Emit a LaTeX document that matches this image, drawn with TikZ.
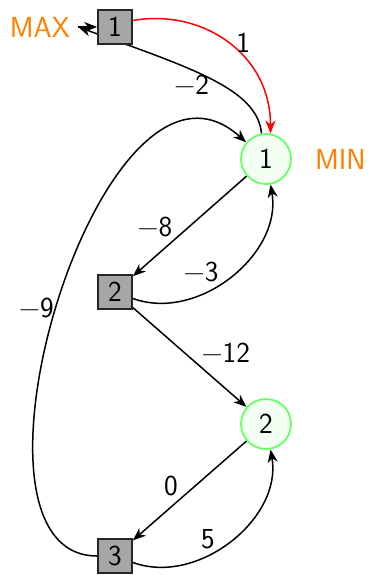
\documentclass[tikz,border=0pt]{standalone}
\usetikzlibrary{positioning, arrows.meta, backgrounds}

\begin{document}
\begin{tikzpicture}[
  font=\sffamily\fontsize{29}{34}\selectfont,
  maxnode/.style={draw=black!85, fill=gray!70, line width=1.7pt, minimum size=34pt, inner sep=0pt},
  minnode/.style={circle, draw=green!60, fill=green!5, line width=1.8pt, minimum size=50pt, inner sep=0pt},
  player/.style={text=orange, inner sep=2pt},
  arr/.style={-{Stealth[length=13pt, width=10pt, inset=4pt]}, line width=1.5pt},
  win/.style={arr, draw=red},
  lbl/.style={inner sep=2pt},
]
\useasboundingbox (-115pt,-548pt) rectangle (254pt,27pt);

% MAX positions
\node[maxnode] (s1) {1};
\node[maxnode, on grid, below=265pt of s1] (s2) {2};
\node[maxnode, on grid, below=264pt of s2] (s3) {3};

% MIN positions
\node[minnode, on grid, below right=132pt and 151pt of s1] (c1) {1};
\node[minnode, on grid, below right=132pt and 151pt of s2] (c2) {2};

% Players
\coordinate[left=19pt of s1] (init);
\node[player, left=6pt of init] (maxlbl) {MAX};
\node[player, right=21pt of c1] (minlbl) {MIN};

% Moves (behind the positions)
\begin{pgfonlayer}{background}
  \draw[arr] (init) -- (s1);
  \draw[win] (s1.20) .. controls +(10:70pt) and +(90:80pt) .. node[lbl, pos=.5, right=6pt] {1} (c1.80);
  \draw[arr] (c1.100) .. controls +(95:45pt) and +(-20:120pt) .. node[lbl, pos=.52, below left=-7pt] {\textminus2} (init);
  \draw[arr] (c1) -- node[lbl, pos=.63, above left] {\textminus8} (s2);
  \draw[arr] (s2) to[out=-20, in=-80] node[lbl, pos=.44, above left=-1pt] {\textminus3} (c1);
  \draw[arr] (s2) -- node[lbl, pos=.58, above right] {\textminus12} (c2);
  \draw[arr] (c2) -- node[lbl, pos=.58, above left] {0} (s3);
  \draw[arr] (s3) to[out=-20, in=-80] node[lbl, pos=.42, above left=-1pt] {5} (c2);
  \draw[arr] (s3.west) .. controls +(-157pt,0pt) and +(-144pt,130pt) .. node[lbl, pos=.49, left] {\textminus9} (c1.140);
\end{pgfonlayer}

\end{tikzpicture}
\end{document}
